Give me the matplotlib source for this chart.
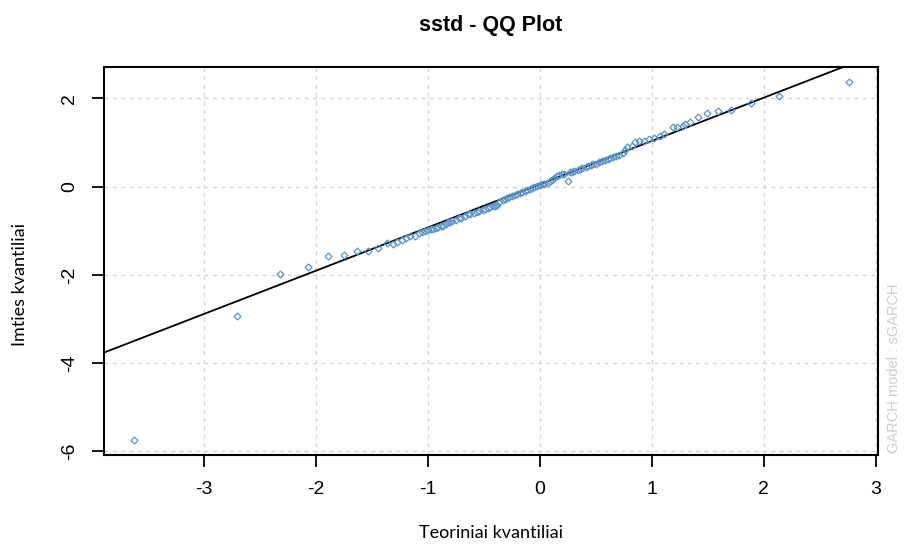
import matplotlib
matplotlib.use('Agg')
import matplotlib.pyplot as plt

# teoriniai kvantiliai (x) ir imties kvantiliai (y), nuskaityta nuo paveikslo
theo_q = [-3.62, -2.70, -2.32, -2.07, -1.89, -1.75, -1.63, -1.53, -1.44, -1.36,
          -1.31, -1.27, -1.23, -1.19, -1.16, -1.11, -1.08, -1.05, -1.02, -1.00,
          -0.97, -0.95, -0.93, -0.91, -0.88, -0.86, -0.84, -0.82, -0.80,
          -0.78, -0.75, -0.72, -0.70, -0.67, -0.64, -0.62, -0.59, -0.56, -0.54,
          -0.51, -0.49, -0.46, -0.44, -0.42, -0.40, -0.38, -0.36, -0.33, -0.31,
          -0.29, -0.27, -0.25, -0.22, -0.20, -0.18, -0.16, -0.13, -0.11, -0.09,
          -0.07, -0.05, -0.02, 0.00, 0.02, 0.04, 0.07, 0.09, 0.11, 0.13,
          0.15, 0.17, 0.20, 0.22, 0.25, 0.27, 0.29, 0.31, 0.34, 0.36,
          0.38, 0.41, 0.43, 0.46, 0.48, 0.50, 0.53, 0.56, 0.58, 0.61,
          0.63, 0.65, 0.68, 0.71, 0.74, 0.76, 0.78, 0.82, 0.85, 0.89,
          0.93, 0.98, 1.02, 1.07, 1.11, 1.19, 1.23, 1.28, 1.30, 1.34,
          1.41, 1.49, 1.59, 1.71, 1.89, 2.14, 2.76]
sample_q = [-5.75, -2.94, -1.98, -1.83, -1.58, -1.55, -1.46, -1.46, -1.39, -1.28,
            -1.30, -1.26, -1.21, -1.17, -1.12, -1.12, -1.06, -1.03, -1.00, -0.98,
            -0.97, -0.96, -0.94, -0.92, -0.90, -0.89, -0.84, -0.81, -0.80,
            -0.78, -0.75, -0.72, -0.70, -0.67, -0.63, -0.62, -0.59, -0.57, -0.55,
            -0.53, -0.50, -0.48, -0.46, -0.45, -0.44, -0.41, -0.36, -0.30, -0.28,
            -0.26, -0.23, -0.21, -0.18, -0.16, -0.14, -0.12, -0.10, -0.08, -0.06,
            -0.04, -0.02, 0.01, 0.03, 0.05, 0.07, 0.09, 0.12, 0.15, 0.20,
            0.24, 0.26, 0.28, 0.29, 0.12, 0.32, 0.34, 0.36, 0.37, 0.40,
            0.42, 0.45, 0.47, 0.48, 0.51, 0.52, 0.55, 0.58, 0.60, 0.63,
            0.65, 0.67, 0.70, 0.72, 0.76, 0.84, 0.90, 0.92, 1.01, 1.03,
            1.03, 1.08, 1.10, 1.15, 1.19, 1.35, 1.35, 1.37, 1.42, 1.46,
            1.58, 1.67, 1.71, 1.73, 1.89, 2.05, 2.36]

# qqline - du taskai ant tieses
line_p1 = (-3.89, -3.76)
line_p2 = (2.71, 2.71)

x_ticks = [-3, -2, -1, 0, 1, 2, 3]
y_ticks = [-6, -4, -2, 0, 2]

fig = plt.figure(figsize=(9.09, 5.44), dpi=100)
ax = fig.add_axes([0.1144, 0.1636, 0.8515, 0.7133])

ax.set_xlim(-3.89, 3.02)
ax.set_ylim(-6.08, 2.71)

# tinklelis
for v in x_ticks:
    ax.axvline(v, color='#d3d3d3', ls=(0, (3, 3)), lw=1, zorder=1)
for v in y_ticks:
    ax.axhline(v, color='#d3d3d3', ls=(0, (3, 3)), lw=1, zorder=1)

ax.axline(line_p1, line_p2, color='black', lw=1.3, zorder=2)
ax.plot(theo_q, sample_q, ls='none', marker='D', ms=3.5, mfc='none',
        mec='#5b93c8', mew=0.9, zorder=3)

ax.set_xticks(x_ticks)
ax.set_yticks(y_ticks)
ax.set_xticklabels([str(v) for v in x_ticks], fontsize=14, family='Liberation Sans')
ax.set_yticklabels([str(v) for v in y_ticks], fontsize=14, family='Liberation Sans',
                   rotation=90, va='center')
ax.tick_params(direction='out', length=8.5, width=1.3)
ax.tick_params(axis='x', pad=10)
ax.tick_params(axis='y', pad=10)

for s in ax.spines.values():
    s.set_linewidth(1.5)

fig.text(0.5402, 1 - 25 / 544, 'sstd - QQ Plot', fontsize=15.5, fontweight='bold',
         family='Liberation Sans', ha='center', va='center')
fig.text(0.5402, 1 - 533 / 544, 'Teoriniai kvantiliai', fontsize=13, family='Lato',
         ha='center', va='center')
fig.text(20 / 909, 1 - 285 / 544, 'Imties kvantiliai', fontsize=13, family='Lato',
         rotation=90, ha='center', va='center')

fig.text(894 / 909, 1 - 453 / 544, 'GARCH model : sGARCH', rotation=90, fontsize=10.5,
         color='#cccccc', family='Liberation Sans', ha='center', va='bottom')

fig.savefig('out.png', dpi=100)
